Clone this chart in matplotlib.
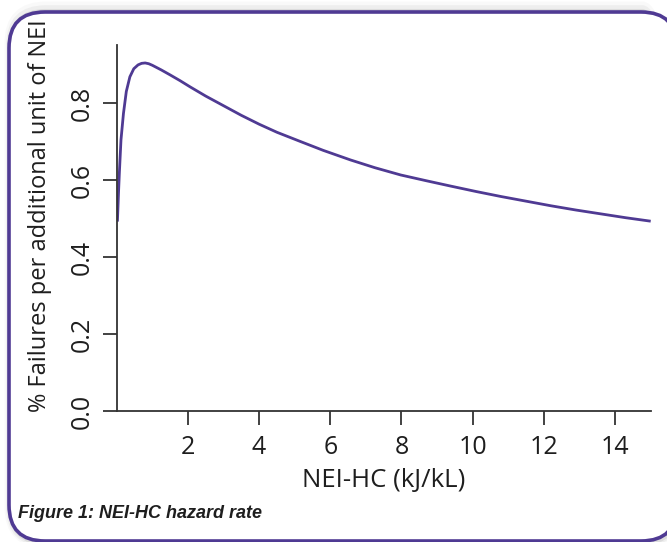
import matplotlib
matplotlib.use("Agg")
import matplotlib.pyplot as plt
from matplotlib.patches import FancyBboxPatch
from matplotlib.transforms import IdentityTransform

# Data
nei_hc = [0.02, 0.05, 0.074, 0.12, 0.19, 0.27, 0.37, 0.48, 0.6, 0.7, 0.8, 0.9, 1.0,
          1.25, 1.5, 1.78, 2.06, 2.5, 3.0, 3.5, 4.0, 4.5, 5.16, 5.8, 6.57, 7.25,
          7.98, 8.7, 9.39, 10.1, 10.8, 11.5, 12.2, 12.9, 13.6, 14.3, 15.0]
failure_rate = [0.492, 0.565, 0.617, 0.704, 0.773, 0.830, 0.868, 0.889, 0.899, 0.903,
                0.904, 0.902, 0.898, 0.886, 0.873, 0.858, 0.842, 0.818, 0.793, 0.768,
                0.745, 0.724, 0.700, 0.677, 0.652, 0.632, 0.613, 0.598, 0.584, 0.570,
                0.557, 0.545, 0.533, 0.522, 0.512, 0.502, 0.493]
x_ticks = [2, 4, 6, 8, 10, 12, 14]
y_ticks = [0.0, 0.2, 0.4, 0.6, 0.8]
y_tick_labels = ["0.0", "0.2", "0.4", "0.6", "0.8"]

purple = "#4f3a93"
axis_col = "#333333"
text_col = "#1e1e1e"
plt.rcParams["font.family"] = ["Open Sans", "DejaVu Sans"]

W, H = 667, 542
fig = plt.figure(figsize=(W / 100, H / 100), dpi=100, facecolor="white")

# rounded border (pixel coords, origin bottom-left) with soft shadow
left_px, top_px, right_px, bottom_px = 9, 12, 677, 541
for i, a in enumerate([0.07, 0.045, 0.025]):
    sh = FancyBboxPatch((left_px + 1, H - bottom_px - 2),
                        right_px - left_px, bottom_px - top_px + 3 + 2 * i,
                        boxstyle="round,pad=0,rounding_size=36", transform=IdentityTransform(),
                        facecolor="none", edgecolor=(0, 0, 0, a), linewidth=3 + 2.5 * i,
                        zorder=-3)
    fig.patches.append(sh)
box = FancyBboxPatch((left_px, H - bottom_px), right_px - left_px, bottom_px - top_px,
                     boxstyle="round,pad=0,rounding_size=36", transform=IdentityTransform(),
                     facecolor="white", edgecolor=purple, linewidth=2.6, zorder=-2)
fig.patches.append(box)

ax = fig.add_axes([116.7 / W, 1 - 411 / H, (650.7 - 116.7) / W, (411 - 45.25) / H])
ax.set_facecolor("none")
ax.plot(nei_hc, failure_rate, color=purple, linewidth=2.0, solid_capstyle="butt")
ax.set_xlim(0, 15)
ax.set_ylim(0, 0.95)
ax.tick_params(axis="both", length=10, width=1.3, color=axis_col,
               labelsize=18, labelcolor=text_col)
ax.tick_params(axis="x", pad=7)
ax.tick_params(axis="y", pad=6)
ax.set_xticks(x_ticks)
ax.set_xticklabels([str(t) for t in x_ticks])
ax.set_yticks(y_ticks)
ax.set_yticklabels(y_tick_labels, rotation=90, va="center")
for s in ["top", "right"]:
    ax.spines[s].set_visible(False)
for s in ["left", "bottom"]:
    ax.spines[s].set_color(axis_col)
    ax.spines[s].set_linewidth(1.3)

ax.set_xlabel("NEI-HC (kJ/kL)", fontsize=18.5, color=text_col, labelpad=6)
fig.text(40 / W, 1 - 216 / H, "% Failures per additional unit of NEI", rotation=90,
         fontsize=17, color=text_col, ha="center", va="center")

fig.text(18 / W, 1 - 513 / H, "Figure 1: NEI-HC hazard rate", fontsize=13,
         family="Liberation Sans", fontweight="bold", fontstyle="italic",
         color=text_col, ha="left", va="center")

fig.savefig("out.png", dpi=100, facecolor="white")
